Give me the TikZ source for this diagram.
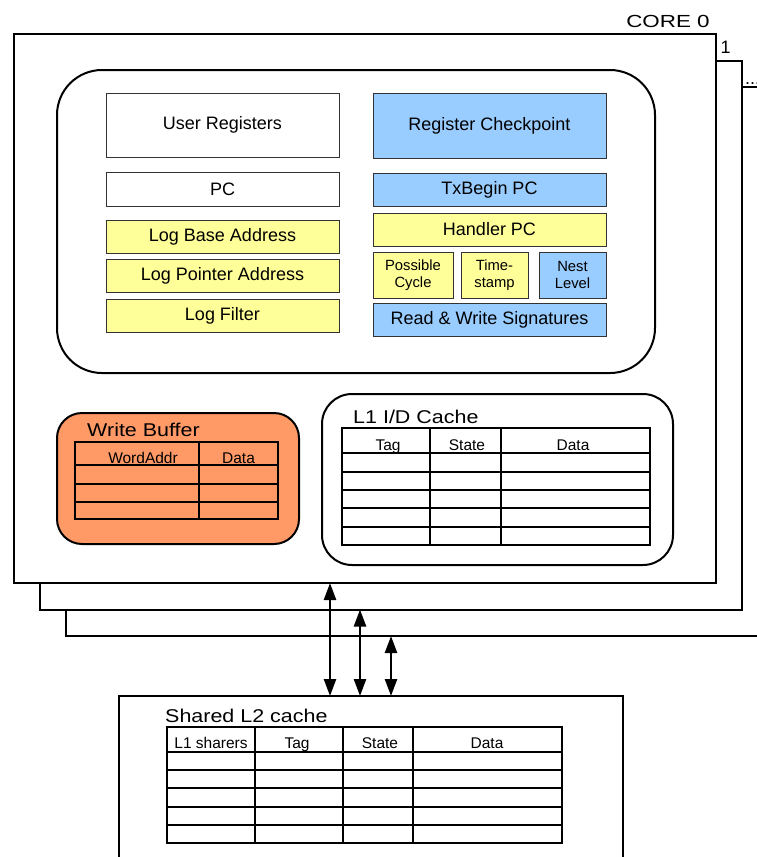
\documentclass[tikz,border=0pt]{standalone}
\usepackage{fontspec}
\setmainfont{Liberation Sans}
\usetikzlibrary{arrows.meta}
\definecolor{regblue}{HTML}{99CCFF}
\definecolor{regyellow}{HTML}{FFFF99}
\definecolor{wborange}{HTML}{FF9966}
\newcommand\fsz[1]{\fontsize{#1}{16.7}\selectfont}

\begin{document}
\begin{tikzpicture}[x=1pt,y=-1pt,
  corebox/.style={draw, line width=2pt, fill=white, inner sep=0pt, outer sep=0pt,
    minimum width=702pt, minimum height=549pt},
  reg/.style={draw=black!80, line width=1pt, inner sep=0pt, outer sep=0pt,
    align=center, font=\fsz{18}, minimum width=233pt, minimum height=33pt},
  white reg/.style={reg, fill=white},
  blue reg/.style={reg, fill=regblue},
  yellow reg/.style={reg, fill=regyellow},
  small reg/.style={font=\fsz{14.8}, minimum height=46pt},
  roundbox/.style={draw, line width=2pt, inner sep=0pt, outer sep=0pt},
  title/.style={anchor=base west, inner sep=0pt, font=\fsz{18.5}, xscale=1.16},
  head/.style={anchor=base, inner sep=0pt, font=\fsz{15.5}},
  tbl/.style={line width=1.8pt},
  biarrow/.style={line width=2.4pt,
    {Triangle[length=17pt,width=12pt]}-{Triangle[length=17pt,width=12pt]}}
]
\useasboundingbox (0,0) rectangle (757,857);
\clip (0,0) rectangle (757,857);

% stacked core frames, back to front
\node[corebox] (core2) at (417,361.5) {};
\node[corebox] (core1) at (391,335) {};
\node[corebox] (core0) at (365,308.5) {};
\node[anchor=base, inner sep=0pt, font=\fsz{17.5}, xscale=1.28] (corelbl) at (668,27) {CORE 0};
\node[anchor=base, inner sep=0pt, font=\fsz{18}] (onelbl) at (725.5,53) {1};
\node[anchor=base west, inner sep=0pt, font=\fsz{18}] (dotslbl) at (745,84.5) {...};

% register file
\node[roundbox, rounded corners=45pt, minimum width=598pt, minimum height=303pt] (regfile) at (356,221.5) {};

\node[white reg, minimum height=64pt] (ureg) at (222.5,125) {User Registers};
\node[white reg, minimum height=34pt] (pc) at (222.5,189) {PC};
\node[yellow reg] (lba) at (222.5,236.5) {Log Base Address};
\node[yellow reg] (lpa) at (222.5,275.5) {Log Pointer Address};
\node[yellow reg] (lf) at (222.5,315.5) {Log Filter};

\node[blue reg, minimum height=65pt] (rcp) at (489.5,125.5) {Register Checkpoint};
\node[blue reg] (txb) at (489.5,189.5) {TxBegin PC};
\node[yellow reg] (hpc) at (489.5,229.5) {Handler PC};
\node[yellow reg, small reg, minimum width=80pt] (pcyc) at (413,275) {Possible\\Cycle};
\node[yellow reg, small reg, minimum width=67pt] (tstamp) at (494.5,275) {Time-\\stamp};
\node[blue reg, small reg, minimum width=67pt] (nest) at (572.5,275) {Nest\\Level};
\node[blue reg] (rws) at (489.5,319.5) {Read \& Write Signatures};

% write buffer
\node[roundbox, fill=wborange, rounded corners=25pt, minimum width=242pt, minimum height=131pt] (wb) at (178,478.5) {};
\node[title] (wbtitle) at (87,436) {Write Buffer};
\draw[tbl] (75,442) rectangle (278,519);
\foreach \yy in {465,484,502} \draw[tbl] (75,\yy) -- (278,\yy);
\draw[tbl] (199,442) -- (199,519);
\node[head] (wbh1) at (143,463) {WordAddr};
\node[head] (wbh2) at (238.5,463) {Data};

% L1 cache
\node[roundbox, fill=white, rounded corners=30pt, minimum width=351pt, minimum height=171pt] (l1) at (497.5,479.5) {};
\node[title] (l1title) at (353,423) {L1 I/D Cache};
\draw[tbl] (342,428) rectangle (650,545);
\foreach \yy in {453,472,490,508,527} \draw[tbl] (342,\yy) -- (650,\yy);
\foreach \xx in {430,501} \draw[tbl] (\xx,428) -- (\xx,545);
\node[head] (l1h1) at (388,450) {Tag};
\node[head] (l1h2) at (467,450) {State};
\node[head] (l1h3) at (573,450) {Data};

% shared L2 cache
\node[corebox, minimum width=504pt, minimum height=184pt] (l2) at (371,788) {};
\node[title] (l2title) at (165,722) {Shared L2 cache};
\draw[tbl] (167,727) rectangle (562,843);
\foreach \yy in {752,770,788,807,825} \draw[tbl] (167,\yy) -- (562,\yy);
\foreach \xx in {255,343,413} \draw[tbl] (\xx,727) -- (\xx,843);
\node[head] (l2h1) at (211,748) {L1 sharers};
\node[head] (l2h2) at (297,748) {Tag};
\node[head] (l2h3) at (380,748) {State};
\node[head] (l2h4) at (487,748) {Data};

% core <-> L2 links
\coordinate (ax0) at (330,0);
\coordinate (ax1) at (360,0);
\coordinate (ax2) at (391,0);
\draw[biarrow] (core0.south -| ax0) -- (l2.north -| ax0);
\draw[biarrow] (core1.south -| ax1) -- (l2.north -| ax1);
\draw[biarrow] (core2.south -| ax2) -- (l2.north -| ax2);
\end{tikzpicture}
\end{document}
